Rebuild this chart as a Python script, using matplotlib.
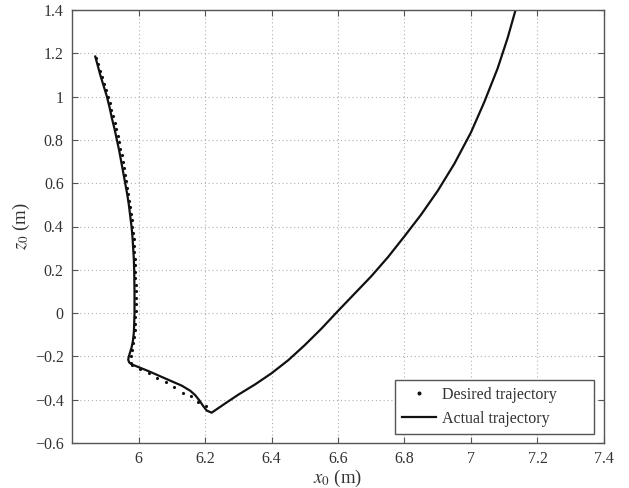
import numpy as np
import matplotlib
matplotlib.use("Agg")
import matplotlib.pyplot as plt

plt.rcParams['font.family'] = ['Liberation Serif', 'DejaVu Serif']
plt.rcParams['mathtext.fontset'] = 'stix'

# desired trajectory samples (x0, z0) in metres
desired_x = [5.872, 5.878, 5.884, 5.890, 5.896, 5.902, 5.908, 5.913, 5.918, 5.923,
             5.928, 5.933, 5.937, 5.941, 5.945, 5.949, 5.953, 5.957, 5.960, 5.963,
             5.966, 5.969, 5.972, 5.974, 5.977, 5.979, 5.981, 5.983, 5.985, 5.986,
             5.987, 5.988, 5.989, 5.990, 5.990, 5.991, 5.991, 5.991, 5.991, 5.991,
             5.990, 5.989, 5.988, 5.986, 5.984, 5.981, 5.978, 5.976,
             5.980, 6.005, 6.033, 6.057, 6.083, 6.107, 6.133, 6.158, 6.180, 6.203]
desired_z = [1.18, 1.15, 1.12, 1.09, 1.06, 1.03, 1.00, 0.97, 0.94, 0.91,
             0.88, 0.85, 0.82, 0.79, 0.76, 0.73, 0.70, 0.67, 0.64, 0.61,
             0.58, 0.55, 0.52, 0.49, 0.46, 0.43, 0.40, 0.37, 0.34, 0.31,
             0.28, 0.25, 0.22, 0.19, 0.16, 0.13, 0.10, 0.07, 0.04, 0.01,
             -0.02, -0.05, -0.08, -0.11, -0.14, -0.17, -0.20, -0.23,
             -0.239, -0.259, -0.277, -0.300, -0.320, -0.343, -0.367, -0.385, -0.410, -0.431]

# actual trajectory
actual_x = [5.870, 5.878, 5.885, 5.895, 5.905, 5.913, 5.920, 5.928, 5.935, 5.942,
            5.948, 5.954, 5.960, 5.966, 5.971, 5.975, 5.979, 5.982, 5.984, 5.986,
            5.987, 5.988, 5.988, 5.987, 5.986, 5.983, 5.979, 5.975, 5.971, 5.969,
            5.972, 5.980, 6.030, 6.085, 6.130, 6.155, 6.170, 6.183, 6.195, 6.205,
            6.220, 6.260, 6.300, 6.350, 6.400, 6.450, 6.500, 6.550, 6.600, 6.650,
            6.700, 6.750, 6.800, 6.850, 6.900, 6.950, 7.000, 7.040, 7.080, 7.110,
            7.134, 7.145]
actual_z = [1.185, 1.14, 1.10, 1.05, 1.00, 0.95, 0.90, 0.85, 0.80, 0.75,
            0.70, 0.65, 0.60, 0.55, 0.50, 0.45, 0.40, 0.35, 0.30, 0.25,
            0.20, 0.10, 0.00, -0.05, -0.09, -0.13, -0.16, -0.18, -0.20, -0.215,
            -0.228, -0.237, -0.268, -0.305, -0.335, -0.358, -0.378, -0.403, -0.430, -0.450,
            -0.460, -0.418, -0.377, -0.330, -0.278, -0.218, -0.148, -0.072, 0.010, 0.090,
            0.170, 0.258, 0.355, 0.455, 0.565, 0.690, 0.835, 0.975, 1.130, 1.270,
            1.400, 1.460]

xticks = [6, 6.2, 6.4, 6.6, 6.8, 7, 7.2, 7.4]
xticklabels = ['6', '6.2', '6.4', '6.6', '6.8', '7', '7.2', '7.4']
yticks = [-0.6, -0.4, -0.2, 0, 0.2, 0.4, 0.6, 0.8, 1, 1.2, 1.4]
yticklabels = ['\u22120.6', '\u22120.4', '\u22120.2', '0', '0.2', '0.4', '0.6', '0.8', '1', '1.2', '1.4']

text_col = '#333333'
edge_col = '#555555'

fig = plt.figure(figsize=(6.29, 4.88), dpi=100)
ax = fig.add_axes([72/629, 1 - 443/488, 532/629, 433/488])

ax.plot(desired_x, desired_z, linestyle='none', marker='.', markersize=2.5,
        color='#111111', label='Desired trajectory')
ax.plot(actual_x, actual_z, '-', color='#111111', linewidth=1.6,
        label='Actual trajectory')

ax.set_xlim(5.8, 7.4)
ax.set_ylim(-0.6, 1.4)
ax.set_xticks(xticks)
ax.set_xticklabels(xticklabels)
ax.set_yticks(yticks)
ax.set_yticklabels(yticklabels)
ax.tick_params(direction='in', top=True, right=True, length=4, width=0.8,
               color=edge_col, labelcolor=text_col, labelsize=11.5, pad=6)
ax.grid(True, linestyle=(0, (1, 2.5)), color='#b0b0b0', linewidth=0.8)
for s in ax.spines.values():
    s.set_color(edge_col)
    s.set_linewidth(1.0)

ax.set_xlabel(r'$x_0$' + ' (m)', fontsize=13.5, color=text_col, labelpad=0.5)
ax.set_ylabel(r'$z_0$' + ' (m)', fontsize=13.5, color=text_col, labelpad=2)

# legend box stretched to a fixed width in the lower right corner
leg = ax.legend(loc='lower left', bbox_to_anchor=(0.607, 0.021, 0.374, 0.12),
                mode='expand', borderaxespad=0, fontsize=11.5, frameon=True,
                fancybox=False, edgecolor=edge_col, framealpha=1,
                handlelength=2.1, handletextpad=0.4, borderpad=0.45,
                markerscale=1.5)
leg.get_frame().set_linewidth(1.0)
for t in leg.get_texts():
    t.set_color(text_col)

fig.savefig('out.png', dpi=100)
